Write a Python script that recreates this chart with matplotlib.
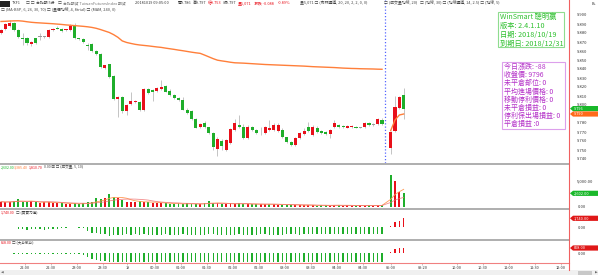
import numpy as np
import pandas as pd
import matplotlib
matplotlib.use('Agg')
import matplotlib.pyplot as plt
from matplotlib.lines import Line2D
from matplotlib.patches import Rectangle, Polygon
from matplotlib.transforms import IdentityTransform

plt.rcParams['font.family'] = ['Noto Sans CJK TC', 'DejaVu Sans']

# ---- data: 5 minute bars, night session then day session ----
opens = [9.880, 9.884, 9.888, 9.891, 9.883, 9.874, 9.874, 9.868, 9.874, 9.876,
         9.876, 9.876, 9.883, 9.886, 9.885, 9.883, 9.883, 9.888, 9.874, 9.873,
         9.867, 9.868, 9.860, 9.857, 9.841, 9.845, 9.832, 9.807, 9.809, 9.793,
         9.801, 9.803, 9.803, 9.794, 9.818, 9.817, 9.816, 9.818, 9.821, 9.816,
         9.811, 9.808, 9.806, 9.795, 9.793, 9.785, 9.776, 9.780, 9.775, 9.769,
         9.751, 9.760, 9.750, 9.758, 9.772, 9.778, 9.776, 9.763, 9.776, 9.772,
         9.771, 9.769, 9.772, 9.772, 9.771, 9.772, 9.764, 9.759, 9.756, 9.763,
         9.768, 9.776, 9.767, 9.774, 9.771, 9.770, 9.768, 9.776, 9.778, 9.777,
         9.775, 9.776, 9.776, 9.775, 9.776, 9.780, 9.778, 9.779, 9.783,
         9.752, 9.771, 9.797, 9.811]
highs = [9.885, 9.891, 9.894, 9.892, 9.884, 9.880, 9.876, 9.871, 9.875, 9.880,
         9.877, 9.884, 9.886, 9.888, 9.886, 9.885, 9.890, 9.891, 9.875, 9.874,
         9.869, 9.869, 9.861, 9.858, 9.845, 9.846, 9.833, 9.810, 9.810, 9.801,
         9.815, 9.806, 9.804, 9.819, 9.819, 9.818, 9.820, 9.828, 9.822, 9.818,
         9.812, 9.809, 9.809, 9.797, 9.795, 9.786, 9.780, 9.782, 9.776, 9.770,
         9.764, 9.762, 9.762, 9.774, 9.785, 9.789, 9.779, 9.778, 9.777, 9.773,
         9.776, 9.777, 9.783, 9.780, 9.780, 9.774, 9.765, 9.760, 9.764, 9.770,
         9.775, 9.781, 9.778, 9.777, 9.772, 9.771, 9.773, 9.783, 9.779, 9.778,
         9.778, 9.778, 9.777, 9.776, 9.781, 9.781, 9.780, 9.786, 9.786,
         9.771, 9.810, 9.810, 9.819]
lows = [9.879, 9.883, 9.887, 9.882, 9.874, 9.867, 9.867, 9.866, 9.868, 9.872,
        9.874, 9.875, 9.882, 9.884, 9.881, 9.882, 9.882, 9.873, 9.872, 9.869,
        9.861, 9.859, 9.856, 9.841, 9.840, 9.830, 9.806, 9.787, 9.791, 9.789,
        9.800, 9.802, 9.793, 9.793, 9.812, 9.804, 9.815, 9.817, 9.814, 9.810,
        9.807, 9.805, 9.794, 9.790, 9.783, 9.774, 9.774, 9.775, 9.768, 9.750,
        9.743, 9.750, 9.749, 9.757, 9.771, 9.775, 9.762, 9.762, 9.771, 9.768,
        9.767, 9.768, 9.771, 9.771, 9.770, 9.763, 9.758, 9.754, 9.755, 9.762,
        9.767, 9.770, 9.766, 9.769, 9.768, 9.767, 9.763, 9.775, 9.775, 9.775,
        9.774, 9.775, 9.774, 9.774, 9.775, 9.777, 9.777, 9.778, 9.778,
        9.746, 9.770, 9.796, 9.785]
closes = [9.883, 9.890, 9.891, 9.883, 9.876, 9.873, 9.869, 9.870, 9.869, 9.876,
          9.876, 9.883, 9.885, 9.885, 9.882, 9.884, 9.888, 9.874, 9.873, 9.870,
          9.866, 9.860, 9.857, 9.842, 9.844, 9.831, 9.807, 9.809, 9.793, 9.800,
          9.804, 9.805, 9.794, 9.818, 9.813, 9.814, 9.819, 9.820, 9.815, 9.811,
          9.808, 9.806, 9.795, 9.791, 9.784, 9.775, 9.779, 9.776, 9.769, 9.753,
          9.762, 9.754, 9.761, 9.773, 9.780, 9.776, 9.763, 9.776, 9.772, 9.769,
          9.771, 9.776, 9.774, 9.778, 9.778, 9.764, 9.759, 9.756, 9.763, 9.769,
          9.771, 9.771, 9.776, 9.770, 9.769, 9.768, 9.772, 9.780, 9.776, 9.776,
          9.777, 9.777, 9.775, 9.775, 9.780, 9.778, 9.778, 9.784, 9.779,
          9.770, 9.798, 9.809, 9.796]
day_start = 89  # first bar of the day session

# long moving average (night) and the new one of the day session
ma_night = [9.8928, 9.8930, 9.8933, 9.8935, 9.8936, 9.8932, 9.8925, 9.8919, 9.8915, 9.8912,
            9.8909, 9.8906, 9.8903, 9.8899, 9.8895, 9.8890, 9.8886, 9.8882, 9.8878, 9.8874,
            9.8869, 9.8862, 9.8852, 9.8838, 9.8822, 9.8806, 9.8782, 9.8752, 9.8712, 9.8695,
            9.8684, 9.8674, 9.8667, 9.8662, 9.8657, 9.8651, 9.8645, 9.8640, 9.8632, 9.8625,
            9.8618, 9.8610, 9.8603, 9.8595, 9.8587, 9.8580, 9.8574, 9.8555, 9.8535, 9.8515,
            9.8498, 9.8490, 9.8483, 9.8475, 9.8469, 9.8467, 9.8465, 9.8462, 9.8459, 9.8456,
            9.8453, 9.8450, 9.8448, 9.8446, 9.8444, 9.8442, 9.8440, 9.8438, 9.8436, 9.8434,
            9.8432, 9.8429, 9.8426, 9.8424, 9.8422, 9.8420, 9.8418, 9.8416, 9.8413, 9.8410,
            9.8408, 9.8406, 9.8405, 9.8403, 9.8402, 9.8401, 9.8400, 9.8398, 9.8397]
ma_day = [9.7715, 9.7833, 9.7889, 9.7900]

volume = [975, 845, 975, 1105, 1430, 975, 845, 1105, 845, 650,
          975, 845, 780, 650, 650, 520, 520, 650, 520, 650,
          845, 975, 1625, 1430, 1625, 2405, 1950, 1625, 1300, 975,
          975, 845, 1105, 845, 845, 780, 780, 650, 650, 520,
          520, 650, 455, 650, 520, 455, 585, 650, 1105, 650,
          650, 520, 455, 650, 520, 650, 520, 455, 455, 455,
          520, 455, 455, 455, 390, 390, 325, 325,
          325, 260, 260, 325, 260, 200, 260, 260, 200, 390,
          260, 200, 260, 200, 200, 260, 200, 260, 200, 260, 325,
          6100, 5000, 2900, 2602]

power = [150, 150, 120, 100,
         -300, -350, -380, -350, -320, -350, -380, -350, -300, -250,
         -100, -100, 100, 80, -100, -120,
         -700, -1000, -1050, -1270, -1300, -1560, -1450, -1400, -1350, -1300,
         -1350, -1300, -1400, -1320, -1380, -1450, -1400, -1350, -1300, -1420,
         -1380, -1350, -1300, -1400, -1450, -1420, -1380, -1350, -1300, -1320,
         -1380, -1420, -1450, -1400, -1350, -1300, -1350, -1400, -1380, -1350,
         -1300, -1320, -1350, -1380, -1400, -1350, -1300, -1280, -1300, -1350,
         -1320, -1300, -1280, -1300, -1320, -1300, -1280, -1250, -1300, -1280,
         -1250, -1280, -1300, -1250, -1280, -1250, -1230, -1250, -1230,
         250, 1000, 1300, 1740]

bigsmall = [80, 80, 60,
            -120, -150, -150, -180, -150, -200, -180, -200, -220, -200,
            -180, -200, -220, -250, -230, -250, -300,
            -700, -1000, -1200, -1400, -1450,
            -1500, -1520, -1550, -1500, -1480, -1520, -1500, -1550, -1520, -1500,
            -1480, -1500, -1520, -1550, -1500, -1480, -1500, -1520, -1500, -1480,
            -1500, -1520, -1550, -1520, -1500, -1480, -1500, -1520, -1500, -1480,
            -1500, -1500, -1520, -1500, -1480, -1500, -1520, -1500, -1480, -1500,
            -1520, -1500, -1480, -1500, -1520, -1500, -1480, -1500, -1500, -1480,
            -1500, -1520, -1500, -1480, -1500, -1500, -1480, -1500, -1520, -1500,
            -1480, -1500, -1500, -1480,
            100, 700, 800, 868]

time_labels = ['22:00', '22:30', '23:00', '23:30', '19', '00:30', '01:00', '01:30',
               '02:00', '02:30', '03:00', '03:30', '04:00', '04:30', '05:00',
               '09:20', '10:00', '10:30', '11:00', '11:30', '12:00']
time_slots = [5.5, 11.5, 17.5, 23.5, 29.2, 35.5, 41.5, 47.5, 53.5, 59.5, 65.5,
              71.5, 77.5, 83.5, 90.0, 97.3, 105.3, 111.3, 117.3, 123.3, 129.3]
price_ticks = [9.74, 9.75, 9.76, 9.77, 9.78, 9.79, 9.80, 9.81, 9.82, 9.83,
               9.84, 9.85, 9.86, 9.87, 9.88, 9.89, 9.90]

info_green = ['WinSmart 聰明贏', '版本: 2.4.1.10', '日期: 2018/10/19', '到期日: 2018/12/31']
info_purple = ['今日漲跌: -88', '收盤價: 9796', '未平倉部位: 0', '平均進場價格: 0',
               '移動停利價格: 0', '未平倉損益: 0', '停利保出場損益: 0', '平倉損益 :0']

# ---- layout helpers (pixels of the 598x275 picture) ----
W, H = 598, 275
RIGHT = 569
RED, GREEN, GREY = '#e8101a', '#1fae2b', '#9a9a9a'
ORANGE = '#ff7f3a'

def fx(px):
    return px / W

def fy(py):
    return 1 - py / H

def rect(top, bottom):
    return [0, fy(bottom), fx(RIGHT), (bottom - top) / H]

o = np.array(opens)
hi = np.array(highs)
lo = np.array(lows)
c = np.array(closes)
n = len(c)
idx = np.arange(n)
pos = idx + (idx >= day_start)
XLIM = (-0.23, 131.18)

fig = plt.figure(figsize=(W / 100, H / 100), dpi=100)
fig.patch.set_facecolor('white')

ax = fig.add_axes(rect(0, 163))
axv = fig.add_axes(rect(164, 208))
ax2 = fig.add_axes(rect(209, 239))
ax3 = fig.add_axes(rect(240, 263))

for a in (ax, axv, ax2, ax3):
    a.set_xlim(*XLIM)
    for s in a.spines.values():
        s.set_visible(False)
    a.tick_params(axis='x', bottom=False, labelbottom=False)
    a.tick_params(axis='y', left=False, right=False, labelleft=False, labelright=True,
                  labelsize=3, pad=2.5, colors='#333333')

# main candles
body_col = np.where(c > o, RED, np.where(c < o, GREEN, GREY))
ax.vlines(pos, lo, hi, color='#c4c4c4', lw=0.7, zorder=1)
ax.bar(pos, np.maximum(np.abs(c - o), 0.0004), bottom=np.minimum(o, c), width=0.72,
       color=body_col, linewidth=0, zorder=2)
ax.plot(pos[:day_start], ma_night, color=ORANGE, lw=1.0, zorder=3)
ax.plot(pos[day_start:], ma_day, color=ORANGE, lw=1.0, zorder=3)
ax.axvline(pos[day_start] - 1.3, color='#5566ff', lw=0.9, ls=(0, (1, 1.6)), zorder=0)
ax.set_ylim(9.9 - 148 / 900, 9.9 + 15 / 900)
# labels hidden behind the price tags are left out
shown = [v for v in price_ticks if min(abs(v - c[-1]), abs(v - ma_day[-1])) > 0.0035]
ax.set_yticks(shown, [f'{v:.3f}' for v in shown])

# volume
vol = pd.Series(volume, dtype=float)
prev = np.r_[c[0], c[:-1]]
vol_col = np.where(c >= prev, RED, GREEN)
axv.bar(pos, vol, width=0.45, color=vol_col, linewidth=0)
ma5 = vol.rolling(5, min_periods=1).mean()
ma10 = vol.rolling(10, min_periods=1).mean()
axv.plot(pos, ma5, color='#ff9a55', lw=0.6)
axv.plot(pos, ma10, color='#f07070', lw=0.6, alpha=0.8)
axv.set_ylim(-253, 8307)
axv.set_yticks([0, 5000], ['0.00', '5,000.00'])

# buy / sell power
p2 = np.array(power)
ax2.bar(pos, p2, width=0.3, color=np.where(p2 >= 0, RED, GREEN), linewidth=0)
ax2.set_ylim(-2174, 3497)
ax2.set_yticks([0], ['0.00'])

p3 = np.array(bigsmall)
ax3.bar(pos, p3, width=0.3, color=np.where(p3 >= 0, RED, GREEN), linewidth=0)
ax3.set_ylim(-1740, 2262)
ax3.set_yticks([0], ['0.00'])
ax3.spines['bottom'].set_visible(True)
ax3.spines['bottom'].set_color('#f08080')
ax3.spines['bottom'].set_linewidth(0.8)
ax3.tick_params(axis='x', bottom=True, labelbottom=True, length=1.5, width=0.4,
                color='#999999', labelsize=2.8, pad=1, labelcolor='#333333')
ax3.set_xticks(time_slots, time_labels)

# panel separators and right border
for yy in (163.5, 208.5, 239.5):
    fig.add_artist(Line2D([0, fx(RIGHT)], [fy(yy), fy(yy)], color='#a8a8a8', lw=1.3))
fig.add_artist(Line2D([fx(RIGHT), fx(RIGHT)], [fy(0), fy(270)], color='#f06060', lw=0.8))

# bottom scroll strip
fig.add_artist(Rectangle((0, 0), 1, 5 / H, transform=fig.transFigure, color='#f0f0f0', lw=0))
fig.add_artist(Rectangle((fx(578), 0.3 / H), 14 / W, 4 / H, transform=fig.transFigure,
                         color='#c8c8c8', lw=0))
fig.text(fx(595), fy(272.5), '▶', fontsize=2.5, color='#666', va='center', family='DejaVu Sans')
fig.text(fx(0.5), fy(272.5), '◀', fontsize=2.5, color='#666', va='center', family='DejaVu Sans')

# price tags on the right axis
fig.canvas.draw()

def tag(a, value, text, color):
    y = a.transData.transform((0, value))[1]
    x0 = RIGHT + 1
    poly = Polygon([(x0, y), (x0 + 3, y + 2.6), (W, y + 2.6), (W, y - 2.6), (x0 + 3, y - 2.6)],
                   closed=True, transform=IdentityTransform(), color=color, lw=0)
    fig.add_artist(poly)
    fig.text(fx(x0 + 4), y / H, text, fontsize=2.8, color='white', va='center', ha='left')

tag(ax, c[-1], f'{c[-1]:.3f}', '#19b82a')
tag(ax, ma_day[-1], f'{ma_day[-1]:.3f}', '#ff6a1a')
tag(axv, volume[-1], f'{volume[-1]:,.2f}', '#19b82a')
tag(ax2, power[-1], f'{power[-1]:,.2f}', '#e01818')
tag(ax3, bigsmall[-1], f'{bigsmall[-1]:,.2f}', '#e01818')
fig.text(fx(592), fy(4), 'B+', fontsize=2.8, color='#333', va='center')

# header lines
fig.add_artist(Rectangle((fx(0), fy(6.5)), 10 / W, 5.5 / H, transform=fig.transFigure,
                         color='#222222', lw=0))
head1 = [(12, 'TXF1', '#444'), (26, '□ □', '#444'), (36, '台指期 5分', '#444'),
         (58, '□', '#444'), (63, '台指期貨 TaiwanFuturesIndex 期貨', '#777'),
         (135, '20181019 09:05:00', '#333'), (178, '開9.786', '#333'),
         (193, '高9.797', '#333'), (208, '低9.753', RED), (223, '收9.797', '#333'),
         (238, '量5,071', RED), (254, '漲跌 -0.088', RED), (278, '-0.89%', RED),
         (300, '量5,071 □ (布林通道, 20, 20, 2, 2, 0, 0)', '#444'),
         (384, '□ (成交量均線, 20)', '#444'), (420, '□ (均線, 30) □ (均線通道, 14, 2.5) □ (均線, 5)', '#444')]
for x, t, col in head1:
    fig.text(fx(x), fy(3.3), t, fontsize=2.8, color=col, va='center')
fig.text(fx(1), fy(10), '□ (MA-BSP, 6, 26, 30, 70) □ (量價均線, 4, 8trial) □ (MAM, 240, 0)',
         fontsize=2.8, color='#444', va='center')

# sub panel headers
fig.text(fx(1), fy(167.5), f'{volume[-1]:,.2f}', fontsize=2.6, color='#19b82a', va='center')
fig.text(fx(14), fy(167.5), f'{ma5.iloc[-1]:,.2f}', fontsize=2.6, color='#ff7f3a', va='center')
fig.text(fx(29), fy(167.5), f'{ma10.iloc[-1]:,.2f}', fontsize=2.6, color=RED, va='center')
fig.text(fx(44), fy(167.5), '0.00 ⊠ □ (成交量, 5, 10)', fontsize=2.6, color='#444', va='center')
fig.text(fx(1), fy(212), f'{power[-1]:,.2f}', fontsize=2.6, color=RED, va='center')
fig.text(fx(16), fy(212), '□ (買賣力道)', fontsize=2.6, color='#444', va='center')
fig.text(fx(1), fy(242.5), f'{bigsmall[-1]:,.2f}', fontsize=2.6, color=RED, va='center')
fig.text(fx(12), fy(242.5), '□ (大戶散戶)', fontsize=2.6, color='#444', va='center')

# information boxes
fig.add_artist(Rectangle((fx(498), fy(47)), 66 / W, 35 / H, transform=fig.transFigure,
                         fill=False, ec='#8fdc8f', lw=0.8))
for k, t in enumerate(info_green):
    fig.text(fx(500), fy(16.5 + 9 * k), t, fontsize=5.2, color='#2fc02f', va='center')
fig.add_artist(Rectangle((fx(502), fy(129)), 63 / W, 67 / H, transform=fig.transFigure,
                         fill=False, ec='#dca0ec', lw=0.8))
for k, t in enumerate(info_purple):
    fig.text(fx(504), fy(67 + 8.15 * k), t, fontsize=5.0, color='#b431c8', va='center')

fig.savefig('out.png', dpi=100, facecolor='white')
